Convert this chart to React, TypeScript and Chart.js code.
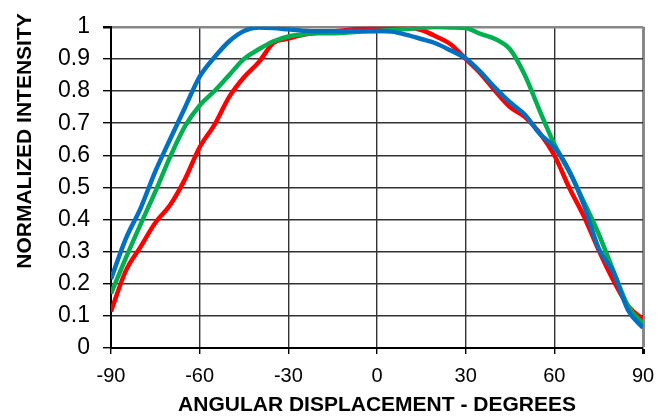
import React, { useEffect, useRef } from "react";
import { Chart, registerables } from "chart.js";

Chart.register(...registerables);

const angles = [
  -90, -85, -80, -75, -70, -65, -60, -55, -50, -45, -40, -35, -30, -25, -20, -15, -10, -5, 0,
  5, 10, 15, 20, 25, 30, 35, 40, 45, 50, 55, 60, 65, 70, 75, 80, 85, 90,
];

const redValues = [
  0.114, 0.24, 0.315, 0.39, 0.445, 0.525, 0.625, 0.695, 0.782, 0.843, 0.89, 0.95, 0.963, 0.975,
  0.982, 0.986, 0.99, 0.995, 0.997, 0.998, 0.998, 0.99, 0.97, 0.945, 0.9, 0.855, 0.8, 0.75, 0.72,
  0.67, 0.6, 0.5, 0.41, 0.305, 0.21, 0.13, 0.09,
];

const greenValues = [
  0.169, 0.28, 0.385, 0.487, 0.595, 0.69, 0.755, 0.8, 0.85, 0.9, 0.93, 0.955, 0.97, 0.976, 0.98,
  0.98, 0.982, 0.985, 0.987, 0.99, 0.993, 0.997, 0.999, 0.998, 0.996, 0.978, 0.962, 0.93, 0.85,
  0.74, 0.635, 0.55, 0.455, 0.355, 0.24, 0.13, 0.075,
];

const blueValues = [
  0.215, 0.34, 0.435, 0.55, 0.65, 0.748, 0.845, 0.905, 0.955, 0.987, 0.998, 0.996, 0.992, 0.988,
  0.986, 0.986, 0.987, 0.987, 0.987, 0.985, 0.975, 0.962, 0.948, 0.926, 0.902, 0.86, 0.81, 0.765,
  0.727, 0.668, 0.625, 0.552, 0.445, 0.31, 0.235, 0.117, 0.063,
];

const xTitle = "ANGULAR DISPLACEMENT - DEGREES";
const yTitle = "NORMALIZED INTENSITY";

const toPoints = (vals: number[]) => angles.map((a, i) => ({ x: a, y: vals[i] }));

const FONT = "'Liberation Sans', Arial, sans-serif";

const yTitlePlugin = {
  id: "yTitlePlugin",
  afterDraw(chart: any) {
    const ctx = chart.ctx as CanvasRenderingContext2D;
    ctx.save();
    ctx.translate(25, 141);
    ctx.rotate(-Math.PI / 2);
    ctx.font = `bold 21px ${FONT}`;
    ctx.fillStyle = "#000";
    ctx.textAlign = "center";
    ctx.textBaseline = "middle";
    ctx.fillText(yTitle, 0, 0);
    ctx.restore();
  },
};

export default function App() {
  const ref = useRef<HTMLCanvasElement | null>(null);

  useEffect(() => {
    if (!ref.current) return;
    const chart = new Chart(ref.current, {
      type: "line",
      data: {
        datasets: [
          { label: "Red", data: toPoints(redValues), borderColor: "#FF0000", order: 3 },
          { label: "Green", data: toPoints(greenValues), borderColor: "#00B050", order: 2 },
          { label: "Blue", data: toPoints(blueValues), borderColor: "#0070C0", order: 1 },
        ].map((d) => ({
          ...d,
          borderWidth: 4.5,
          pointRadius: 0,
          fill: false,
          tension: 0.3,
          cubicInterpolationMode: "monotone" as const,
        })),
      },
      options: {
        responsive: false,
        animation: false,
        layout: { padding: { top: 16, right: 29, left: 0, bottom: 0 } },
        plugins: { legend: { display: false }, tooltip: { enabled: false } },
        scales: {
          x: {
            type: "linear",
            min: -90,
            max: 90,
            afterFit: (s: any) => {
              s.height = 71;
            },
            ticks: {
              stepSize: 30,
              color: "#000",
              padding: 10,
              font: { family: FONT, size: 20 },
            },
            grid: {
              color: (c: any) => (c.tick && c.tick.value === 90 ? "#888" : "#333"),
              lineWidth: (c: any) => (c.tick && c.tick.value === 90 ? 3 : 1.4),
              tickColor: "#000",
              tickLength: 6,
            },
            border: { color: "#000", width: 2 },
            title: {
              display: true,
              text: xTitle,
              color: "#000",
              font: { family: FONT, size: 21, weight: "bold" },
              padding: { top: 0, bottom: 1 },
            },
          },
          y: {
            min: 0,
            max: 1,
            afterFit: (s: any) => {
              s.width = 111;
            },
            ticks: {
              stepSize: 0.1,
              color: "#000",
              padding: 13,
              font: { family: FONT, size: 23 },
              callback: (v: any) => {
                const n = Math.round(Number(v) * 10) / 10;
                return n === 0 ? "0" : n === 1 ? "1" : n.toFixed(1);
              },
            },
            grid: {
              color: (c: any) => (c.tick && c.tick.value === 1 ? "#888" : "#333"),
              lineWidth: (c: any) => (c.tick && c.tick.value === 1 ? 2.5 : 1.4),
              tickColor: "#000",
              tickLength: 8,
            },
            border: { color: "#000", width: 2 },
            title: { display: false },
          },
        },
      },
      plugins: [yTitlePlugin],
    });
    return () => chart.destroy();
  }, []);

  return (
    <div style={{ position: "fixed", left: 0, top: 0, width: 672, height: 419, background: "#fff" }}>
      <canvas ref={ref} width={672} height={419} style={{ width: 672, height: 419 }} />
    </div>
  );
}
